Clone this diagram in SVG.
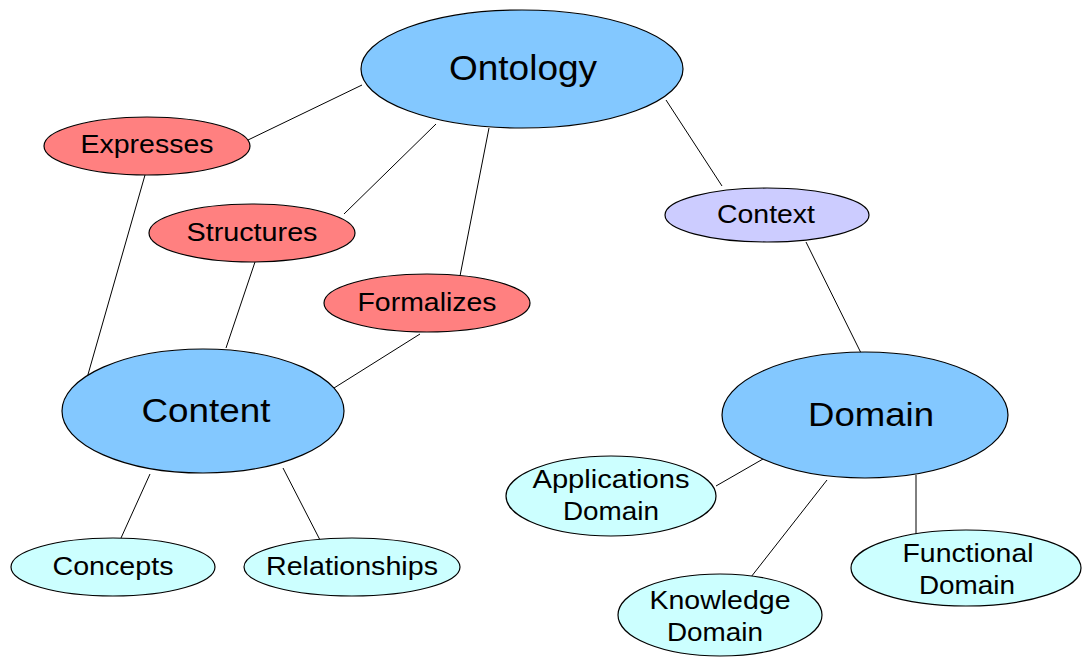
<svg xmlns="http://www.w3.org/2000/svg" width="1083" height="657" viewBox="0 0 1083 657">
<style>
.n{stroke:#000;stroke-width:1.2}
.blue{fill:#83c8ff}
.red{fill:#ff8080}
.lav{fill:#ccccff}
.cyan{fill:#ccffff}
text{font-family:"Liberation Sans",Arial,sans-serif;fill:#000;text-anchor:middle}
.big{font-size:34px}
.sm{font-size:25px}
#connectors line{stroke:#000;stroke-width:1}
</style>
<rect width="1083" height="657" fill="#fff"/>
<g id="connectors">
<line x1="362" y1="85" x2="248" y2="140"/>
<line x1="436" y1="124" x2="344" y2="214"/>
<line x1="489" y1="128" x2="460" y2="276"/>
<line x1="666" y1="100" x2="722" y2="186"/>
<line x1="145" y1="175" x2="87" y2="378"/>
<line x1="256" y1="259" x2="226" y2="348"/>
<line x1="420" y1="334" x2="334" y2="388"/>
<line x1="806" y1="242" x2="862" y2="355"/>
<line x1="150" y1="474" x2="121" y2="538"/>
<line x1="283" y1="468" x2="320" y2="540"/>
<line x1="763" y1="459" x2="716" y2="486"/>
<line x1="827" y1="480" x2="751" y2="577"/>
<line x1="916" y1="475" x2="916" y2="535"/>
</g>
<g id="ontology"><ellipse class="n blue" cx="522" cy="69" rx="161" ry="59"/><text class="big" x="523" y="80" style="font-size:35px" textLength="148" lengthAdjust="spacingAndGlyphs">Ontology</text></g>
<g id="expresses"><ellipse class="n red" cx="147" cy="146" rx="103" ry="29"/><text class="sm" x="147" y="153" textLength="133" lengthAdjust="spacingAndGlyphs">Expresses</text></g>
<g id="structures"><ellipse class="n red" cx="252" cy="233" rx="103" ry="29"/><text class="sm" x="252" y="241" textLength="131" lengthAdjust="spacingAndGlyphs">Structures</text></g>
<g id="formalizes"><ellipse class="n red" cx="427" cy="303" rx="103" ry="29"/><text class="sm" x="427" y="311" textLength="139" lengthAdjust="spacingAndGlyphs">Formalizes</text></g>
<g id="context"><ellipse class="n lav" cx="767" cy="215" rx="102" ry="27"/><text class="sm" x="766" y="223" textLength="98" lengthAdjust="spacingAndGlyphs">Context</text></g>
<g id="content"><ellipse class="n blue" cx="203" cy="411" rx="141" ry="62"/><text class="big" x="206" y="422" textLength="129" lengthAdjust="spacingAndGlyphs">Content</text></g>
<g id="domain"><ellipse class="n blue" cx="865" cy="415" rx="143" ry="63"/><text class="big" x="871" y="426" textLength="126" lengthAdjust="spacingAndGlyphs">Domain</text></g>
<g id="concepts"><ellipse class="n cyan" cx="113" cy="567" rx="102" ry="29"/><text class="sm" x="113" y="575" textLength="121" lengthAdjust="spacingAndGlyphs">Concepts</text></g>
<g id="relationships"><ellipse class="n cyan" cx="352" cy="567" rx="108" ry="29"/><text class="sm" x="352" y="575" textLength="172" lengthAdjust="spacingAndGlyphs">Relationships</text></g>
<g id="applications-domain"><ellipse class="n cyan" cx="611" cy="496" rx="105" ry="40"/><text class="sm" x="611" y="488" textLength="157" lengthAdjust="spacingAndGlyphs">Applications</text><text class="sm" x="611" y="520" textLength="96" lengthAdjust="spacingAndGlyphs">Domain</text></g>
<g id="knowledge-domain"><ellipse class="n cyan" cx="720" cy="615" rx="102" ry="41"/><text class="sm" x="720" y="609" textLength="141" lengthAdjust="spacingAndGlyphs">Knowledge</text><text class="sm" x="715" y="641" textLength="96" lengthAdjust="spacingAndGlyphs">Domain</text></g>
<g id="functional-domain"><ellipse class="n cyan" cx="966" cy="568" rx="115" ry="38"/><text class="sm" x="968" y="562" textLength="131" lengthAdjust="spacingAndGlyphs">Functional</text><text class="sm" x="967" y="594" textLength="96" lengthAdjust="spacingAndGlyphs">Domain</text></g>
</svg>
